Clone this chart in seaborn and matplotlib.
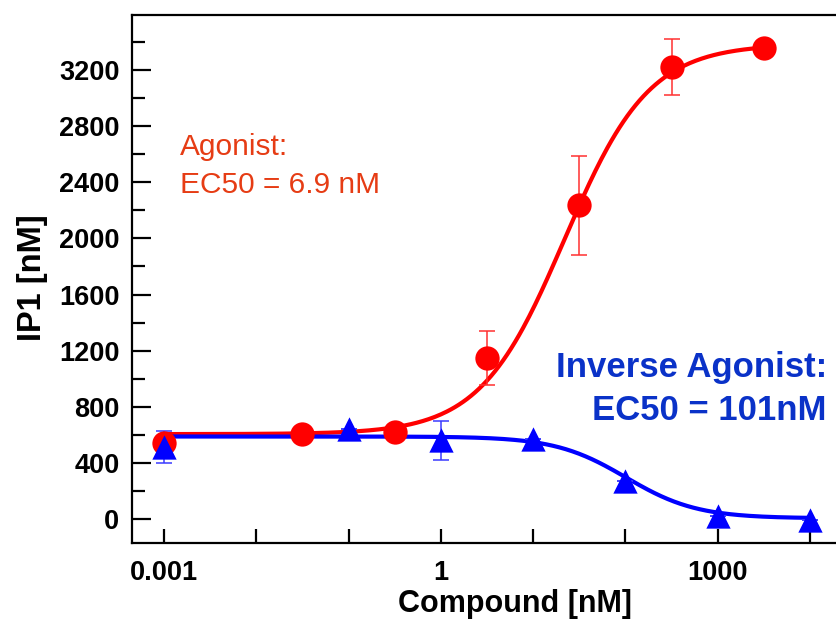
import numpy as np
import pandas as pd
import matplotlib
matplotlib.use("Agg")
import matplotlib.pyplot as plt
from matplotlib.ticker import FixedLocator, FixedFormatter
import seaborn as sns

# Agonist response (IP1 accumulation)
agonist_conc = [0.001, 0.0316, 0.316, 3.16, 31.6, 316, 3162]
agonist_ip1 = [542, 606, 618, 1148, 2235, 3222, 3357]
agonist_err = [0, 0, 0, 190, 350, 200, 0]

# Inverse agonist response
inverse_conc = [0.001, 0.1, 1, 10, 100, 1000, 10000]
inverse_ip1 = [513, 638, 560, 570, 271, 21, -5]
inverse_err = [115, 0, 140, 0, 0, 0, 0]

# Four-parameter logistic fits (bottom, top, log10 EC50, Hill slope)
agonist_fit = dict(bottom=605, top=3385, logec50=1.34, hill=0.95)
inverse_fit = dict(bottom=5, top=588, logec50=np.log10(101), hill=1.13)

x_tick_values = [0.001, 0.01, 0.1, 1, 10, 100, 1000, 10000]
x_tick_labels = ["0.001", "", "", "1", "", "", "1000", ""]
y_major_ticks = [0, 400, 800, 1200, 1600, 2000, 2400, 2800, 3200]
y_minor_ticks = [200, 600, 1000, 1400, 1800, 2200, 2600, 3000, 3400]


def logistic(x, bottom, top, logec50, hill):
    return bottom + (top - bottom) / (1 + 10 ** ((logec50 - np.log10(x)) * hill))


def logistic_dec(x, bottom, top, logec50, hill):
    return bottom + (top - bottom) / (1 + 10 ** ((np.log10(x) - logec50) * hill))


sns.set_style("ticks")
plt.rcParams["font.family"] = ["Liberation Sans", "DejaVu Sans"]
plt.rcParams["text.color"] = "black"
plt.rcParams["xtick.color"] = "black"
plt.rcParams["ytick.color"] = "black"

W, H = 837, 619
fig = plt.figure(figsize=(W / 100, H / 100), dpi=100, facecolor="white")
ax = fig.add_axes([132 / W, 1 - 543 / H, 1 - 132 / W, (543 - 15) / H])

RED = "#ff0000"
BLUE = "#0000ff"

xa = np.logspace(np.log10(agonist_conc[0]), np.log10(agonist_conc[-1]), 300)
xi = np.logspace(np.log10(inverse_conc[0]), np.log10(inverse_conc[-1]), 300)
curves = pd.DataFrame({
    "x": np.concatenate([xa, xi]),
    "y": np.concatenate([logistic(xa, **agonist_fit), logistic_dec(xi, **inverse_fit)]),
    "series": ["Agonist"] * len(xa) + ["Inverse agonist"] * len(xi),
})

sns.lineplot(data=curves[curves.series == "Agonist"], x="x", y="y", color=RED,
             linewidth=3.0, ax=ax, zorder=2, legend=False)
sns.lineplot(data=curves[curves.series == "Inverse agonist"], x="x", y="y", color=BLUE,
             linewidth=3.0, ax=ax, zorder=2.1, legend=False)

ax.errorbar(agonist_conc, agonist_ip1, yerr=agonist_err, fmt="none", ecolor="#ff3030",
            elinewidth=1.1, capsize=5.5, capthick=1.1, zorder=2.5)
ax.errorbar(inverse_conc, inverse_ip1, yerr=inverse_err, fmt="none", ecolor="#3a3aff",
            elinewidth=1.1, capsize=5.5, capthick=1.1, zorder=2.5)

sns.scatterplot(x=agonist_conc, y=agonist_ip1, marker="o", s=17.5 ** 2, color=RED,
                linewidth=0, ax=ax, zorder=3)
sns.scatterplot(x=inverse_conc, y=inverse_ip1, marker="^", s=17.5 ** 2, color=BLUE,
                linewidth=0, ax=ax, zorder=3.1)

ax.set_xscale("log")
ax.set_xlim(10 ** (-3 - 32 / 92.3), 10 ** (-3 + 673 / 92.3))
ax.set_ylim(-171, 3592)

ax.xaxis.set_major_locator(FixedLocator(x_tick_values))
ax.xaxis.set_major_formatter(FixedFormatter(x_tick_labels))
ax.xaxis.set_minor_locator(FixedLocator([]))
ax.yaxis.set_major_locator(FixedLocator(y_major_ticks))
ax.yaxis.set_minor_locator(FixedLocator(y_minor_ticks))

ax.tick_params(axis="x", which="major", direction="in", length=10, width=1.6,
               pad=12, labelsize=19.5, top=False, colors="black")
ax.tick_params(axis="y", which="major", direction="in", length=13.5, width=1.6,
               pad=9, labelsize=19.5, right=False, colors="black")
ax.tick_params(axis="y", which="minor", direction="in", length=9.5, width=1.6,
               right=False, colors="black")
for lab in ax.get_xticklabels() + ax.get_yticklabels():
    lab.set_fontweight("bold")
    lab.set_color("black")

for side in ["left", "bottom", "top"]:
    ax.spines[side].set_linewidth(1.6)
    ax.spines[side].set_color("black")
ax.spines["right"].set_visible(False)

ax.set_xlabel("")
ax.set_ylabel("")
fig.text(515 / W, 1 - 612 / H, "Compound [nM]", ha="center", va="baseline",
         fontsize=22, fontweight="bold", color="black")
fig.text(33 / W, 1 - 278 / H, "IP1 [nM]", ha="center", va="center", rotation=90,
         fontsize=23.5, fontweight="bold", color="black")

fig.text(180 / W, 1 - 155 / H, "Agonist:", ha="left", va="baseline",
         fontsize=21.5, color="#e63c14")
fig.text(180 / W, 1 - 193 / H, "EC50 = 6.9 nM", ha="left", va="baseline",
         fontsize=21.5, color="#e63c14")
fig.text(827 / W, 1 - 377 / H, "Inverse Agonist:", ha="right", va="baseline",
         fontsize=25, fontweight="bold", color="#0a32c8")
fig.text(827 / W, 1 - 420 / H, "EC50 = 101nM", ha="right", va="baseline",
         fontsize=25, fontweight="bold", color="#0a32c8")

fig.savefig("out.png", dpi=100, facecolor="white")
